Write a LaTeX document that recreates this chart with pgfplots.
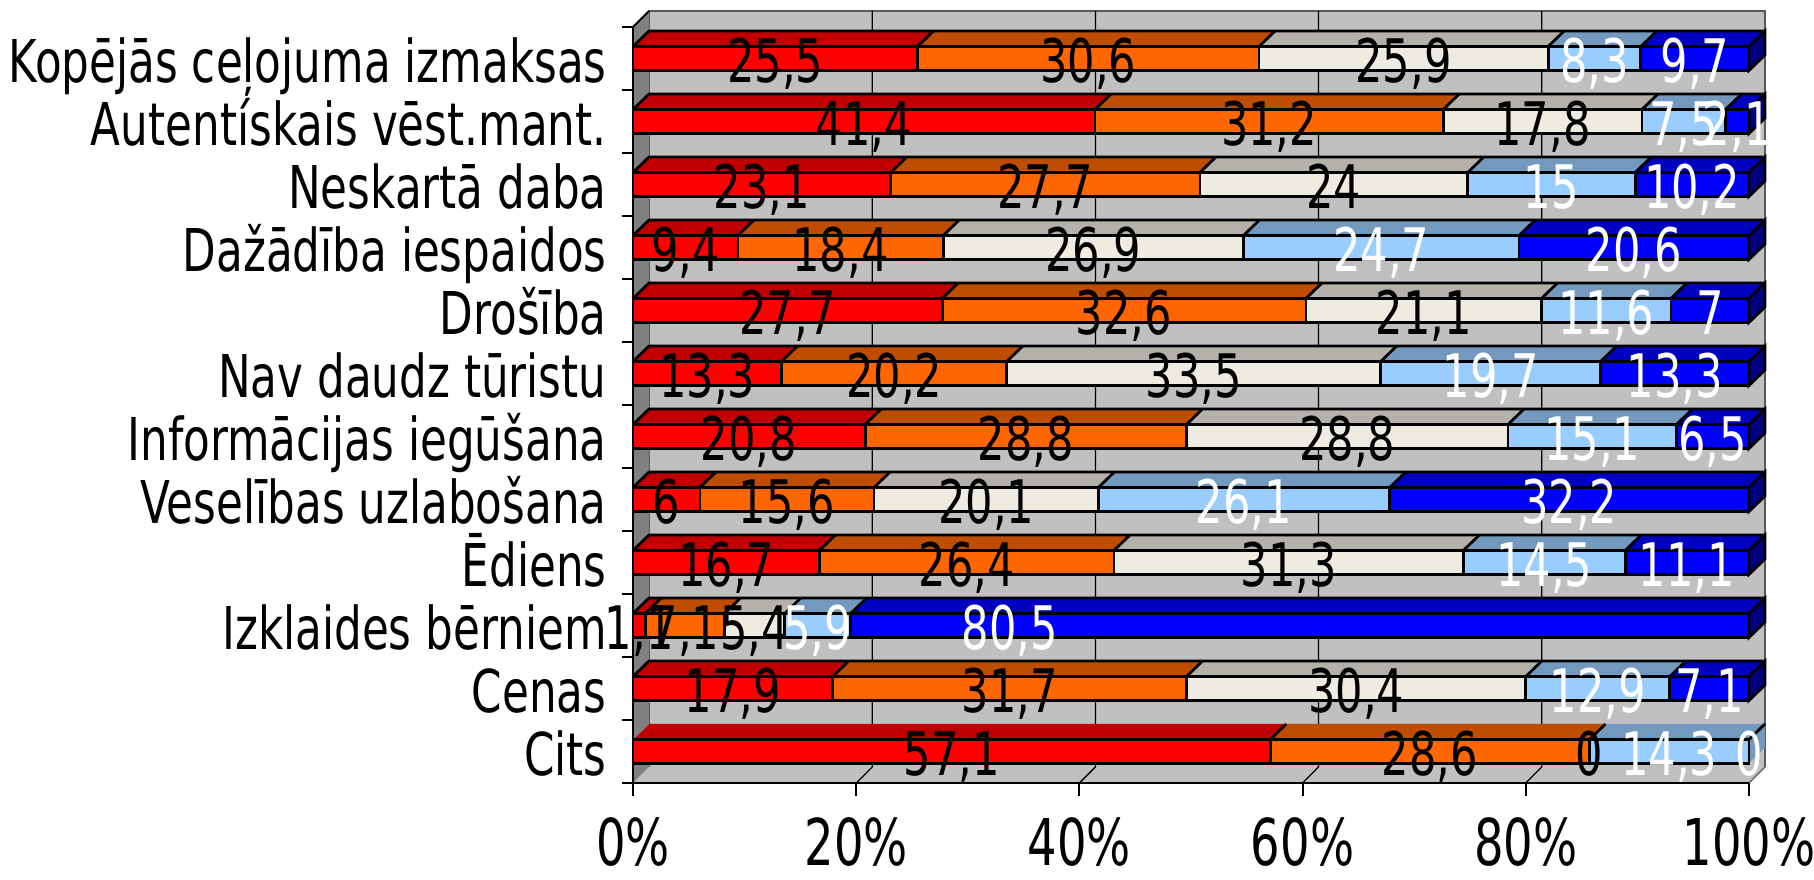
\documentclass[border=0pt]{standalone}
\usepackage{fontspec}
\usepackage{pgfplots}
\pgfplotsset{compat=1.18}
\usepackage{pgfplotstable}
\newfontfamily\catfont[FakeStretch=0.74]{DejaVu Sans}
\newfontfamily\tickfont[FakeStretch=0.72]{DejaVu Sans}
\newfontfamily\valfont[FakeStretch=0.72]{DejaVu Sans}

\definecolor{cRed}{HTML}{FF0000}\definecolor{tRed}{HTML}{C00000}
\definecolor{cOra}{HTML}{FF6600}\definecolor{tOra}{HTML}{BF4D00}
\definecolor{cCre}{HTML}{EEECE1}\definecolor{tCre}{HTML}{B3B1A9}
\definecolor{cLbl}{HTML}{99CCFF}\definecolor{tLbl}{HTML}{7399BF}
\definecolor{cBlu}{HTML}{0000FF}\definecolor{tBlu}{HTML}{0000BF}
\definecolor{sBlu}{HTML}{000080}
\definecolor{wallc}{HTML}{C0C0C0}\definecolor{sidec}{HTML}{808080}

\pgfdeclareplotmark{slant}{%
  \pgfpathmoveto{\pgfqpoint{0pt}{4.8pt}}%
  \pgfpathlineto{\pgfqpoint{6.4pt}{11pt}}%
  \pgfusepathqstroke}
\pgfdeclareplotmark{endcap}{%
  \pgfpathmoveto{\pgfqpoint{0pt}{-4.8pt}}%
  \pgfpathlineto{\pgfqpoint{0pt}{4.8pt}}%
  \pgfpathlineto{\pgfqpoint{6.4pt}{11pt}}%
  \pgfpathlineto{\pgfqpoint{6.4pt}{1.4pt}}%
  \pgfpathclose
  \pgfusepath{fill,stroke}%
  \pgfpathmoveto{\pgfqpoint{-446.4pt}{4.8pt}}%
  \pgfpathlineto{\pgfqpoint{-440pt}{11pt}}%
  \pgfpathlineto{\pgfqpoint{6.4pt}{11pt}}%
  \pgfusepathqstroke}

% eoff: offset of the last label as placed in the original chart
\pgfplotstableread{
y a b c d e eoff
0 25.5 30.6 25.9 8.3 9.7 0
1 41.4 31.2 17.8 7.5 2.1 0
2 23.1 27.7 24 15 10.2 0
3 9.4 18.4 26.9 24.7 20.6 0
4 27.7 32.6 21.1 11.6 7 0
5 13.3 20.2 33.5 19.7 13.3 0
6 20.8 28.8 28.8 15.1 6.5 0
7 6 15.6 20.1 26.1 32.2 0
8 16.7 26.4 31.3 14.5 11.1 0
9 1.1 7.1 5.4 5.9 80.5 -26
10 17.9 31.7 30.4 12.9 7.1 0
11 57.1 28.6 0 14.3 0 0
}\datatable

\pgfplotsset{
  geom/.style={hide axis, scale only axis, width=446.4pt, height=302.4pt,
    xmin=0, xmax=100, ymin=-0.5, ymax=11.5, y dir=reverse,
    anchor=south west, clip=false},
  barbase/.style={geom, xbar stacked, bar width=9.6pt},
  lab/.style={every node near coord/.style={font=\valfont\fontsize{24}{24}\selectfont,
    inner sep=0pt, anchor=base, yshift=-9.6pt, text=#1}},
}

\begin{document}
\begin{tikzpicture}
\path[use as bounding box] (0,0) rectangle (725.6pt,352pt);

% walls, floor, grid
\begin{scope}[x=0.4pt,y=-0.4pt,yshift=352pt]
  \fill[wallc] (649,11) rectangle (1765,767);
  \draw[gray!70!black, line width=0.5pt] (649,767) -- (649,11) -- (1765,11) -- (1765,767);
  \fill[wallc] (633,783) -- (1749,783) -- (1765,767) -- (649,767) -- cycle;
  \foreach \k in {1,...,4}{
    \draw[black, line width=0.5pt] ({649+223.2*\k},11) -- ({649+223.2*\k},767) -- ({633+223.2*\k},783);
  }
  \draw[gray!70!black, line width=0.5pt] (1749,783) -- (1765,767);
  \fill[sidec] (633,27) -- (649,11) -- (649,767) -- (633,783) -- cycle;
  \draw[black, line width=0.8pt] (633,27) -- (649,11);
\end{scope}

% main axis: lines, ticks, labels
\begin{axis}[
  at={(253.2pt,38.8pt)}, anchor=south west,
  scale only axis, width=446.4pt, height=302.4pt,
  xmin=0, xmax=100, ymin=-0.5, ymax=11.5, y dir=reverse,
  axis x line*=bottom, axis y line*=left,
  axis line style={line width=0.8pt, -},
  tick align=outside,
  xtick={0,20,...,100},
  xticklabel={\pgfmathprintnumber{\tick}\%},
  xticklabel style={font=\tickfont\fontsize{25.8}{25.8}\selectfont, anchor=base, yshift=-28pt, inner sep=0pt},
  ytick={0,...,11},
  yticklabels={Kopējās ceļojuma izmaksas, Autentískais vēst.mant., Neskartā daba, Dažādība iespaidos, Drošība, Nav daudz tūristu, Informācijas iegūšana, Veselības uzlabošana, Ēdiens, Izklaides bērniem, Cenas, Cits},
  yticklabel style={font=\catfont\fontsize{23.6}{23.6}\selectfont, anchor=base east, yshift=-9.6pt, xshift=-5.2pt, inner sep=0pt},
  minor ytick={-0.5,0.5,...,11.5},
  major tick length=5.2pt, minor tick length=4.4pt,
  every major y tick/.style={draw=none},
  every minor y tick/.style={black, line width=0.8pt},
  every major x tick/.style={black, line width=0.8pt},
  /pgf/number format/assume math mode=true,
]
\addplot[draw=none] coordinates {(0,0)};
\end{axis}

% depth sweep (top and side faces)
\foreach \k in {16,...,1}{
  \pgfmathsetmacro\sx{253.2+0.4*\k}
  \pgfmathsetmacro\sy{38.8+0.3875*\k}
  \begin{axis}[barbase, at={(\sx pt,\sy pt)}]
    \addplot[fill=tRed, draw=none] table[x=a,y=y]{\datatable};
    \addplot[fill=tOra, draw=none] table[x=b,y=y]{\datatable};
    \addplot[fill=tCre, draw=none] table[x=c,y=y]{\datatable};
    \addplot[fill=tLbl, draw=none] table[x=d,y=y]{\datatable};
    \addplot[fill=tBlu, draw=none] table[x=e,y=y]{\datatable};
  \end{axis}
}

% front faces
\begin{axis}[barbase, at={(253.2pt,38.8pt)}]
  \addplot[fill=cRed, draw=black, line width=1.1pt, mark=slant, mark options={solid,draw=black}] table[x=a,y=y]{\datatable};
  \addplot[fill=cOra, draw=black, line width=1.1pt, mark=slant, mark options={solid,draw=black}] table[x=b,y=y]{\datatable};
  \addplot[fill=cCre, draw=black, line width=1.1pt, mark=slant, mark options={solid,draw=black}] table[x=c,y=y]{\datatable};
  \addplot[fill=cLbl, draw=black, line width=1.1pt, mark=slant, mark options={solid,draw=black}] table[x=d,y=y]{\datatable};
  \addplot[fill=cBlu, draw=black, line width=1.1pt, mark=endcap, mark options={solid,draw=black,fill=sBlu}] table[x=e,y=y]{\datatable};
\end{axis}

% value labels, centred on each segment
\begin{scope}
\clip (0pt,0pt) rectangle (706pt,352pt);
\begin{axis}[geom, at={(253.2pt,38.8pt)},
  nodes near coords, point meta=explicit,
  /pgf/number format/.cd, use comma, assume math mode=true, /pgfplots/.cd,
]
  \addplot[draw=none, mark=none, lab=black]
    table[x expr={\thisrow{a}/2}, y=y, meta=a]{\datatable};
  \addplot[draw=none, mark=none, lab=black]
    table[x expr={\thisrow{a}+\thisrow{b}/2}, y=y, meta=b]{\datatable};
  \addplot[draw=none, mark=none, lab=black]
    table[x expr={\thisrow{a}+\thisrow{b}+\thisrow{c}/2}, y=y, meta=c]{\datatable};
  \addplot[draw=none, mark=none, lab=white]
    table[x expr={\thisrow{a}+\thisrow{b}+\thisrow{c}+\thisrow{d}/2}, y=y, meta=d]{\datatable};
  \addplot[draw=none, mark=none, lab=white]
    table[x expr={\thisrow{a}+\thisrow{b}+\thisrow{c}+\thisrow{d}+\thisrow{e}/2+\thisrow{eoff}}, y=y, meta=e]{\datatable};
\end{axis}
\end{scope}
\end{tikzpicture}
\end{document}
